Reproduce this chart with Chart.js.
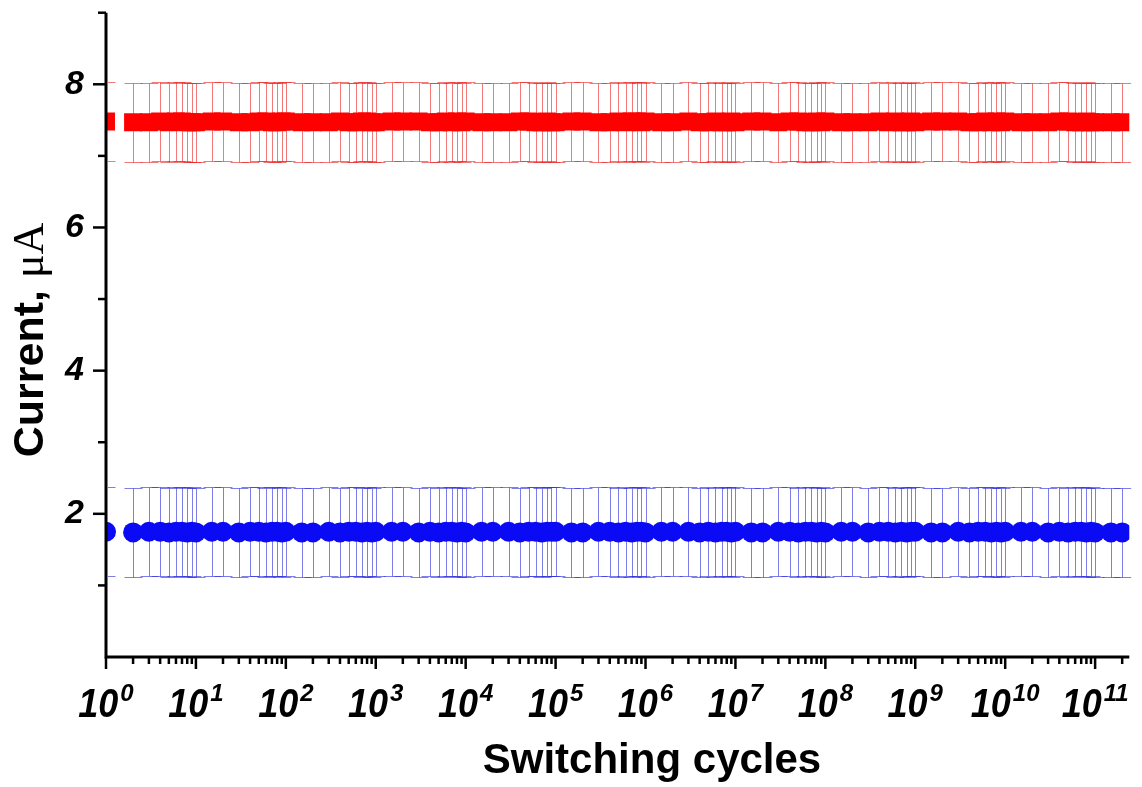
<!DOCTYPE html>
<html>
<head>
<meta charset="utf-8">
<script src="https://cdn.jsdelivr.net/npm/chart.js@4/dist/chart.umd.min.js"></script>
<style>
  html, body { margin: 0; padding: 0; background: #fff; }
  canvas { display: block; }
</style>
</head>
<body>
<canvas id="grafico" width="1142" height="787"></canvas>
<script>
// switching cycles (x)
const cycles = [
  1, 2, 3, 4, 5, 6, 7, 8, 9,
  1e1, 1.5e1, 2e1, 3e1, 4e1, 5e1, 6e1, 7e1, 8e1, 9e1,
  1e2, 1.5e2, 2e2, 3e2, 4e2, 5e2, 6e2, 7e2, 8e2, 9e2,
  1e3, 1.5e3, 2e3, 3e3, 4e3, 5e3, 6e3, 7e3, 8e3, 9e3,
  1e4, 1.5e4, 2e4, 3e4, 4e4, 5e4, 6e4, 7e4, 8e4, 9e4,
  1e5, 1.5e5, 2e5, 3e5, 4e5, 5e5, 6e5, 7e5, 8e5, 9e5,
  1e6, 1.5e6, 2e6, 3e6, 4e6, 5e6, 6e6, 7e6, 8e6, 9e6,
  1e7, 1.5e7, 2e7, 3e7, 4e7, 5e7, 6e7, 7e7, 8e7, 9e7,
  1e8, 1.5e8, 2e8, 3e8, 4e8, 5e8, 6e8, 7e8, 8e8, 9e8,
  1e9, 1.5e9, 2e9, 3e9, 4e9, 5e9, 6e9, 7e9, 8e9, 9e9,
  1e10, 1.5e10, 2e10, 3e10, 4e10, 5e10, 6e10, 7e10, 8e10, 9e10,
  1e11, 1.5e11, 2e11
];

// ON state current (red squares), µA
const onCurrent = [
  7.48, 7.47, 7.47, 7.48, 7.47, 7.48, 7.48, 7.47, 7.47,
  7.47, 7.48, 7.48, 7.47, 7.47, 7.48, 7.48, 7.47, 7.47, 7.48,
  7.48, 7.47, 7.47, 7.47, 7.48, 7.47, 7.47, 7.48, 7.48, 7.47,
  7.47, 7.48, 7.48, 7.48, 7.47, 7.47, 7.48, 7.47, 7.48, 7.47,
  7.48, 7.47, 7.47, 7.47, 7.48, 7.48, 7.47, 7.47, 7.48, 7.47,
  7.47, 7.48, 7.48, 7.47, 7.47, 7.48, 7.47, 7.48, 7.48, 7.47,
  7.48, 7.47, 7.47, 7.48, 7.47, 7.47, 7.48, 7.47, 7.47, 7.48,
  7.47, 7.48, 7.48, 7.47, 7.48, 7.48, 7.47, 7.47, 7.48, 7.47,
  7.48, 7.47, 7.47, 7.47, 7.48, 7.47, 7.48, 7.47, 7.47, 7.48,
  7.47, 7.48, 7.48, 7.48, 7.47, 7.47, 7.48, 7.47, 7.48, 7.47,
  7.48, 7.47, 7.47, 7.47, 7.48, 7.48, 7.47, 7.47, 7.48, 7.47,
  7.47, 7.47, 7.47
];

// OFF state current (blue circles), µA
const offCurrent = [
  1.75, 1.74, 1.75, 1.75, 1.74, 1.75, 1.75, 1.74, 1.75,
  1.74, 1.75, 1.75, 1.74, 1.75, 1.75, 1.74, 1.75, 1.75, 1.74,
  1.75, 1.74, 1.74, 1.75, 1.74, 1.75, 1.75, 1.74, 1.75, 1.74,
  1.75, 1.75, 1.75, 1.74, 1.75, 1.74, 1.75, 1.75, 1.74, 1.75,
  1.74, 1.75, 1.75, 1.75, 1.74, 1.75, 1.75, 1.74, 1.75, 1.75,
  1.75, 1.74, 1.74, 1.75, 1.75, 1.74, 1.75, 1.74, 1.75, 1.75,
  1.74, 1.75, 1.75, 1.75, 1.74, 1.75, 1.74, 1.75, 1.75, 1.74,
  1.75, 1.74, 1.74, 1.75, 1.75, 1.74, 1.75, 1.75, 1.74, 1.75,
  1.74, 1.75, 1.75, 1.74, 1.75, 1.75, 1.74, 1.75, 1.74, 1.75,
  1.75, 1.74, 1.74, 1.75, 1.74, 1.75, 1.75, 1.74, 1.75, 1.74,
  1.75, 1.75, 1.75, 1.74, 1.75, 1.74, 1.75, 1.75, 1.74, 1.75,
  1.74, 1.74, 1.74
];

// error bar half-widths, µA
const onError = 0.55;
const offError = 0.62;

const xTickExponents = [0, 1, 2, 3, 4, 5, 6, 7, 8, 9, 10, 11];
const yTickLabels = [2, 4, 6, 8];
const yMinorTicks = [1, 3, 5, 7, 9];

const toPoints = (xs, ys) => xs.map((v, i) => ({ x: v, y: ys[i] }));

// error bars drawn behind the markers, from the chart's own scales
const errorBars = {
    id: 'errorBars',
    beforeDatasetsDraw(chart) {
        const { ctx, chartArea: a, scales: { x, y } } = chart;
        ctx.save();
        ctx.beginPath();
        ctx.rect(a.left + 2, a.top, a.right - a.left, a.bottom - a.top);
        ctx.clip();
        chart.data.datasets.forEach(ds => {
            ctx.strokeStyle = ds.errorColor;
            ctx.lineWidth = 1;
            ds.data.forEach(p => {
                const px = Math.round(x.getPixelForValue(p.x)) + 0.5;
                const top = Math.round(y.getPixelForValue(p.y + ds.err)) + 0.5;
                const bot = Math.round(y.getPixelForValue(p.y - ds.err)) + 0.5;
                ctx.beginPath();
                ctx.moveTo(px, top); ctx.lineTo(px, bot);
                ctx.moveTo(px - 9, top); ctx.lineTo(px + 9, top);
                ctx.moveTo(px - 9, bot); ctx.lineTo(px + 9, bot);
                ctx.stroke();
            });
        });
        ctx.restore();
    }
};

// axes in the Origin style: thick lines, outward ticks, superscript labels
const originAxes = {
    id: 'originAxes',
    afterDraw(chart) {
        const { ctx, chartArea: a, scales: { x, y } } = chart;
        ctx.save();
        ctx.strokeStyle = '#000';
        ctx.fillStyle = '#000';

        ctx.lineWidth = 3;
        ctx.beginPath();
        ctx.moveTo(a.left, a.top);
        ctx.lineTo(a.left, a.bottom);
        ctx.lineTo(a.right, a.bottom);
        ctx.stroke();

        // y ticks
        ctx.lineWidth = 2.5;
        yTickLabels.forEach(v => {
            const py = y.getPixelForValue(v);
            ctx.beginPath(); ctx.moveTo(a.left, py); ctx.lineTo(a.left - 13, py); ctx.stroke();
        });
        yMinorTicks.forEach(v => {
            const py = y.getPixelForValue(v);
            ctx.beginPath(); ctx.moveTo(a.left, py); ctx.lineTo(a.left - 8, py); ctx.stroke();
        });

        // x ticks
        xTickExponents.forEach(e => {
            const px = x.getPixelForValue(Math.pow(10, e));
            ctx.beginPath(); ctx.moveTo(px, a.bottom); ctx.lineTo(px, a.bottom + 12); ctx.stroke();
            for (let m = 2; m <= 9; m++) {
                const v = m * Math.pow(10, e);
                if (v > x.max) break;
                const pm = x.getPixelForValue(v);
                ctx.beginPath(); ctx.moveTo(pm, a.bottom); ctx.lineTo(pm, a.bottom + 7); ctx.stroke();
            }
        });

        // y tick labels
        ctx.font = 'italic bold 34px "Liberation Sans", Arial, sans-serif';
        ctx.textAlign = 'right';
        ctx.textBaseline = 'middle';
        yTickLabels.forEach(v => {
            ctx.fillText(String(v), a.left - 22, y.getPixelForValue(v));
        });

        // x tick labels 10^n (slightly tall glyphs, as in the source figure)
        ctx.textAlign = 'left';
        ctx.textBaseline = 'alphabetic';
        const baseFont = 'italic bold 36px "Liberation Sans", Arial, sans-serif';
        const supFont = 'italic bold 24px "Liberation Sans", Arial, sans-serif';
        const stretch = 1.15;
        xTickExponents.forEach(e => {
            const px = x.getPixelForValue(Math.pow(10, e));
            ctx.font = baseFont;
            const bw = ctx.measureText('10').width;
            ctx.font = supFont;
            const sw = ctx.measureText(String(e)).width;
            const start = px - (bw + sw + 2) / 2;
            ctx.save();
            ctx.translate(0, 717);
            ctx.scale(1, stretch);
            ctx.font = baseFont;
            ctx.fillText('10', start, 0);
            ctx.restore();
            ctx.font = supFont;
            ctx.fillText(String(e), start + bw + 2, 701);
        });

        // axis titles
        ctx.font = 'bold 42px "Liberation Sans", Arial, sans-serif';
        ctx.textAlign = 'center';
        ctx.fillText('Switching cycles', 652, 773);

        ctx.translate(43, 340);
        ctx.rotate(-Math.PI / 2);
        const t1 = 'Current, ';
        const t2 = 'μA';
        const f1 = 'bold 43px "Liberation Sans", Arial, sans-serif';
        const f2 = '44px "Liberation Serif", "Times New Roman", serif';
        ctx.font = f1;
        const w1 = ctx.measureText(t1).width;
        ctx.font = f2;
        const w2 = ctx.measureText(t2).width;
        ctx.textAlign = 'left';
        ctx.font = f1;
        ctx.fillText(t1, -(w1 + w2) / 2, 0);
        ctx.font = f2;
        ctx.fillText(t2, -(w1 + w2) / 2 + w1, 0);

        ctx.restore();
    }
};

new Chart(document.getElementById('grafico').getContext('2d'), {
    type: 'scatter',
    data: {
        datasets: [
            {
                label: 'ON',
                data: toPoints(cycles, onCurrent),
                pointStyle: 'rect',
                pointRadius: 12.7,
                backgroundColor: '#ff0000',
                borderWidth: 0,
                err: onError,
                errorColor: 'rgba(235, 30, 30, 0.6)'
            },
            {
                label: 'OFF',
                data: toPoints(cycles, offCurrent),
                pointStyle: 'circle',
                pointRadius: 10,
                backgroundColor: '#0a0af5',
                borderWidth: 0,
                err: offError,
                errorColor: 'rgba(40, 40, 220, 0.6)'
            }
        ]
    },
    options: {
        responsive: false,
        devicePixelRatio: 1,
        animation: false,
        layout: { padding: { top: 11, right: 12, left: 0, bottom: 0 } },
        plugins: { legend: { display: false }, tooltip: { enabled: false } },
        scales: {
            x: {
                type: 'logarithmic',
                min: 1,
                max: 2.4e11,
                grid: { display: false },
                border: { display: false },
                ticks: { display: false },
                afterFit: s => { s.height = 130; }
            },
            y: {
                type: 'linear',
                min: 0,
                max: 9,
                grid: { display: false },
                border: { display: false },
                ticks: { display: false },
                afterFit: s => { s.width = 106; }
            }
        }
    },
    plugins: [errorBars, originAxes]
});
</script>
</body>
</html>
